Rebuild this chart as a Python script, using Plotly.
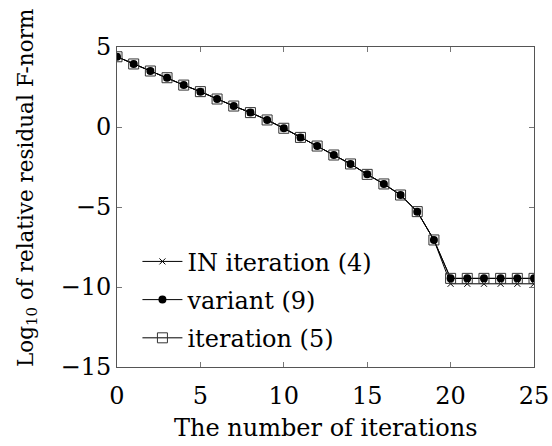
import plotly.graph_objects as go

iterations = list(range(26))
in_iteration = [4.39, 3.94, 3.5, 3.08, 2.62, 2.21, 1.75, 1.31, 0.9, 0.44, -0.08, -0.65,
                -1.19, -1.75, -2.31, -2.96, -3.56, -4.25, -5.29, -7.06,
                -9.8, -9.8, -9.8, -9.8, -9.8, -9.8]
variant = [4.39, 3.94, 3.5, 3.08, 2.62, 2.21, 1.75, 1.31, 0.9, 0.44, -0.08, -0.65,
           -1.19, -1.75, -2.31, -2.96, -3.56, -4.25, -5.29, -7.06,
           -9.46, -9.46, -9.46, -9.46, -9.46, -9.46]
iteration = [4.39, 3.94, 3.5, 3.08, 2.62, 2.21, 1.75, 1.31, 0.9, 0.44, -0.08, -0.65,
             -1.19, -1.75, -2.31, -2.96, -3.56, -4.25, -5.29, -7.06,
             -9.46, -9.46, -9.46, -9.46, -9.46, -9.46]
names = ["IN iteration (4)", "variant (9)", "iteration (5)"]
x_ticks = [0, 5, 10, 15, 20, 25]
y_ticks = [5, 0, -5, -10, -15]
y_tick_text = ["5", "0", "\u22125", "\u221210", "\u221215"]
x_title = "The number of iterations"
y_title = "Log<sub>10</sub> of relative residual F-norm"

FONT = "DejaVu Serif"

fig = go.Figure()
fig.add_trace(go.Scatter(x=iterations, y=in_iteration, name=names[0], mode="lines+markers",
                         legendgroup="a",
                         line=dict(color="black", width=1),
                         marker=dict(symbol="x-thin", size=6, color="black",
                                     line=dict(color="black", width=1))))
fig.add_trace(go.Scatter(x=iterations, y=variant, name=names[1], mode="lines+markers",
                         legendgroup="b",
                         line=dict(color="black", width=1),
                         marker=dict(symbol="circle", size=8, color="black")))
fig.add_trace(go.Scatter(x=iterations, y=iteration, name=names[2], mode="lines+markers",
                         legendgroup="c",
                         line=dict(color="black", width=1),
                         marker=dict(symbol="square-open", size=10, color="#333333",
                                     line=dict(width=1))))

axis_common = dict(showgrid=False, zeroline=False, showline=True, mirror="allticks",
                   linecolor="#555555", linewidth=1, ticks="inside", ticklen=5,
                   tickcolor="#777777", automargin=False,
                   tickfont=dict(family=FONT, size=24, color="black"))

fig.update_xaxes(range=[0, 25], tickvals=x_ticks, ticklabelstandoff=7, **axis_common)
fig.update_yaxes(range=[-15, 5], tickvals=y_ticks, ticktext=y_tick_text, **axis_common)

fig.add_annotation(text=x_title, xref="paper", yref="paper", x=0.5, y=-0.19,
                   xanchor="center", yanchor="middle", showarrow=False,
                   font=dict(family=FONT, size=24, color="black"))
fig.add_annotation(text=y_title, xref="paper", yref="paper", x=-0.216, y=0.559,
                   xanchor="center", yanchor="middle", showarrow=False, textangle=-90,
                   font=dict(family=FONT, size=21.5, color="black"))

fig.update_layout(
    width=552, height=446, autosize=False,
    margin=dict(l=117, r=18, t=47, b=79, autoexpand=False),
    plot_bgcolor="white", paper_bgcolor="white",
    font=dict(family=FONT, size=24, color="black"),
    legend=dict(x=0.049, y=0.399, xanchor="left", yanchor="top",
                bgcolor="rgba(0,0,0,0)", font=dict(family=FONT, size=24, color="black"),
                tracegroupgap=4, itemwidth=40),
    showlegend=True,
)

fig.write_html("out.html", config={"displayModeBar": False},
               post_script="document.body.style.margin='0';")
